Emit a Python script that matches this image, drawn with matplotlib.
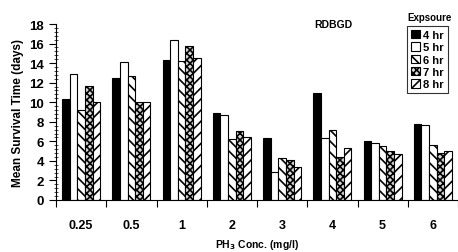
import numpy as np
import matplotlib
matplotlib.use('Agg')
import matplotlib.pyplot as plt
from matplotlib.ticker import MultipleLocator, FixedLocator

plt.rcParams['font.family'] = ['Liberation Sans', 'DejaVu Sans']
plt.rcParams['font.weight'] = 'bold'
plt.rcParams['hatch.linewidth'] = 1.2

conc = ['0.25', '0.5', '1', '2', '3', '4', '5', '6']
exposure = ['4 hr', '5 hr', '6 hr', '7 hr', '8 hr']
hr4 = [10.3, 12.5, 14.35, 8.9, 6.35, 10.9, 6.05, 7.8]
hr5 = [12.9, 14.1, 16.4, 8.7, 2.9, 6.3, 5.8, 7.65]
hr6 = [9.2, 12.7, 14.2, 6.2, 4.25, 7.2, 5.55, 5.65]
hr7 = [11.7, 10.05, 15.7, 7.1, 4.1, 4.35, 5.05, 4.85]
hr8 = [10.05, 10.05, 14.5, 6.45, 3.4, 5.35, 4.7, 5.05]

series = [hr4, hr5, hr6, hr7, hr8]
faces = ['black', 'white', 'white', '#d8d8d8', 'white']
hatches = [None, None, '\\\\\\', 'xxxxx', '///']

fig = plt.figure(figsize=(4.58, 2.53), dpi=100)
ax = fig.add_axes([56 / 458, 1 - 201 / 253, 402 / 458, 176 / 253])

w = 0.151
x = np.arange(len(conc)) + 0.5
for k, (vals, fc, h) in enumerate(zip(series, faces, hatches)):
    ax.bar(x + (k - 2) * w, vals, width=w, color=fc, edgecolor='black',
           linewidth=0.8, hatch=h, label=exposure[k])

ax.set_xlim(0, 8)
ax.set_ylim(0, 18)
ax.spines['top'].set_visible(False)
ax.spines['right'].set_visible(False)
ax.xaxis.set_major_locator(FixedLocator(np.arange(0, 9)))
ax.xaxis.set_minor_locator(FixedLocator(x))
ax.set_xticklabels([], minor=False)
ax.set_xticklabels(conc, minor=True, fontsize=9)
ax.tick_params(axis='x', which='major', direction='out', length=5, width=0.8)
ax.tick_params(axis='x', which='minor', length=0, pad=14)
ax.yaxis.set_major_locator(MultipleLocator(2))
ax.yaxis.set_minor_locator(MultipleLocator(0.4))
ax.tick_params(axis='y', which='major', direction='out', length=5, width=0.8, labelsize=9.5)
ax.tick_params(axis='y', which='minor', direction='inout', length=3, width=0.5)
for lab in ax.get_yticklabels() + ax.get_xticklabels(minor=True):
    lab.set_fontweight('bold')

ax.set_ylabel('Mean Survival Time (days)', fontsize=8.5, fontweight='bold', labelpad=4)
fig.text(257 / 458, 1 - 245 / 253, 'PH$_3$ Conc. (mg/l)', ha='center', va='center',
         fontsize=7.5, fontweight='bold')

fig.text(333 / 458, 1 - 25 / 253, 'RDBGD', ha='center', va='center',
         fontsize=7.5, fontweight='bold')
fig.text(430 / 458, 1 - 18 / 253, 'Expsoure', ha='center', va='center',
         fontsize=7, fontweight='bold')

leg = ax.legend(loc='upper left', bbox_to_anchor=(407 / 458, 1 - 27 / 253),
                bbox_transform=fig.transFigure, fontsize=8, frameon=True,
                fancybox=False, edgecolor='black', handlelength=0.8,
                handleheight=0.8, handletextpad=0.3, borderpad=0.35,
                labelspacing=0.2, borderaxespad=0)
leg.get_frame().set_linewidth(0.8)
for t in leg.get_texts():
    t.set_fontweight('bold')

fig.savefig('out.png', dpi=100)
